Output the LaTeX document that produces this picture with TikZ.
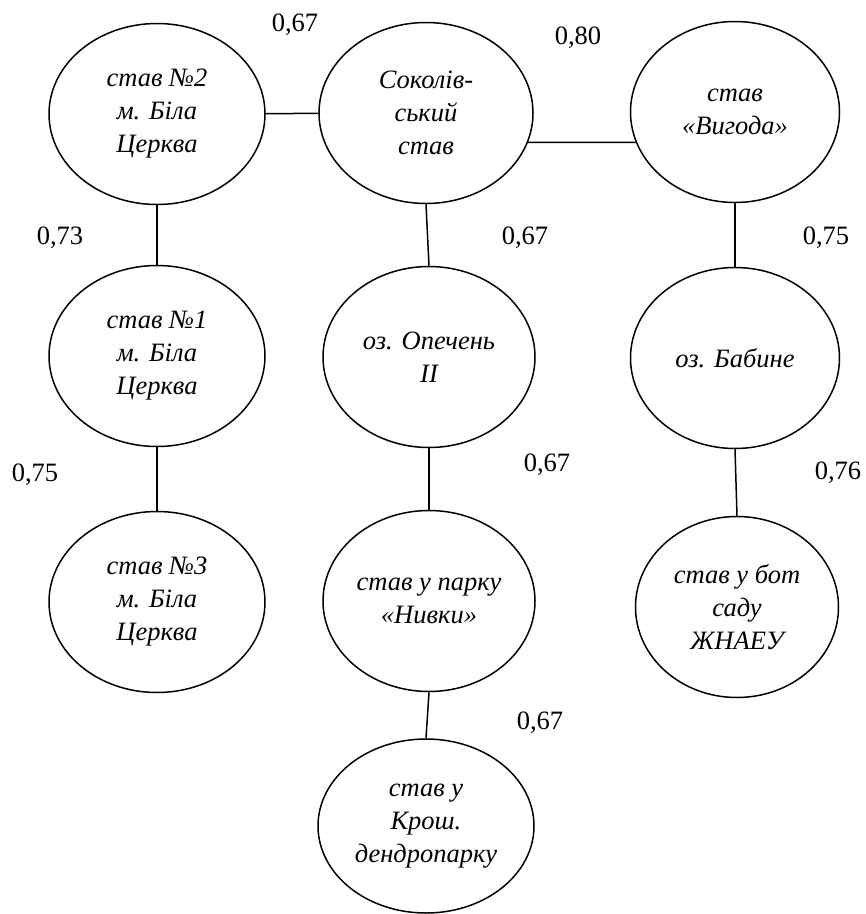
\documentclass[tikz,border=0pt]{standalone}
\usepackage{fontspec}
\setmainfont{Liberation Serif}
\usepackage{tikz}
\usetikzlibrary{shapes.geometric}
\tikzset{
	pond/.style={draw,ellipse,line width=1.5pt,inner sep=0pt,align=center,
		minimum width=212pt,minimum height=181pt,font=\itshape},
	wt/.style={inner sep=0pt}
}

\begin{document}
\begin{tikzpicture}[x=1pt,y=-1pt,line width=1.5pt]
	\fontsize{26.5}{33}\selectfont
\useasboundingbox (0,0) rectangle (866,914); % Fixes the page size.

%Ellipses
\node[pond,minimum width=216pt] (e1) at (157,114) {став №2\\м. Біла\\Церква};
\node[pond,minimum width=214pt] (e2) at (426,113) {Соколів-\\ський\\став};
\node[pond,minimum width=209pt] (e3) at (735,112) {став\\«Вигода»};
\node[pond,minimum width=216pt] (e4) at (157,356) {став №1\\м. Біла\\Церква};
\node[pond] (e5) at (429,357) {оз. Опечень\\II};
\node[pond,minimum width=209pt] (e6) at (735,358) {оз. Бабине};
\node[pond,minimum width=216pt] (e7) at (157,602) {став №3\\м. Біла\\Церква};
\node[pond] (e8) at (429,601) {став у парку\\«Нивки»};
\node[pond,minimum width=203pt] (e9) at (737,607) {став у бот\\саду\\ЖНАЕУ};
\node[pond,minimum width=216pt,minimum height=174pt] (e10) at (426,826) {став у\\Крош.\\дендропарку};

%Liens
\draw (e1) -- (e2);
\draw (e2.-16) -- (e3.197);
\draw (e1.south) -- (e4.north);
\draw (e4.south) -- (e7.north);
\draw (e2.south) -- (e5.north);
\draw (e5.south) -- (e8.north);
\draw (e8.south) -- (e10.north);
\draw (e3.south) -- (e6.north);
\draw (e6.south) -- (e9.north);

%Poids
\node[wt] (w12) at (295,25) {0,67};
\node[wt] (w23) at (578,38) {0,80};
\node[wt] (w14) at (60,238) {0,73};
\node[wt] (w25) at (525,238) {0,67};
\node[wt] (w36) at (826,238) {0,75};
\node[wt] (w47) at (35,475) {0,75};
\node[wt] (w58) at (547,465) {0,67};
\node[wt] (w69) at (838,473) {0,76};
\node[wt] (w810) at (540,723) {0,67};

\end{tikzpicture}
\end{document}
